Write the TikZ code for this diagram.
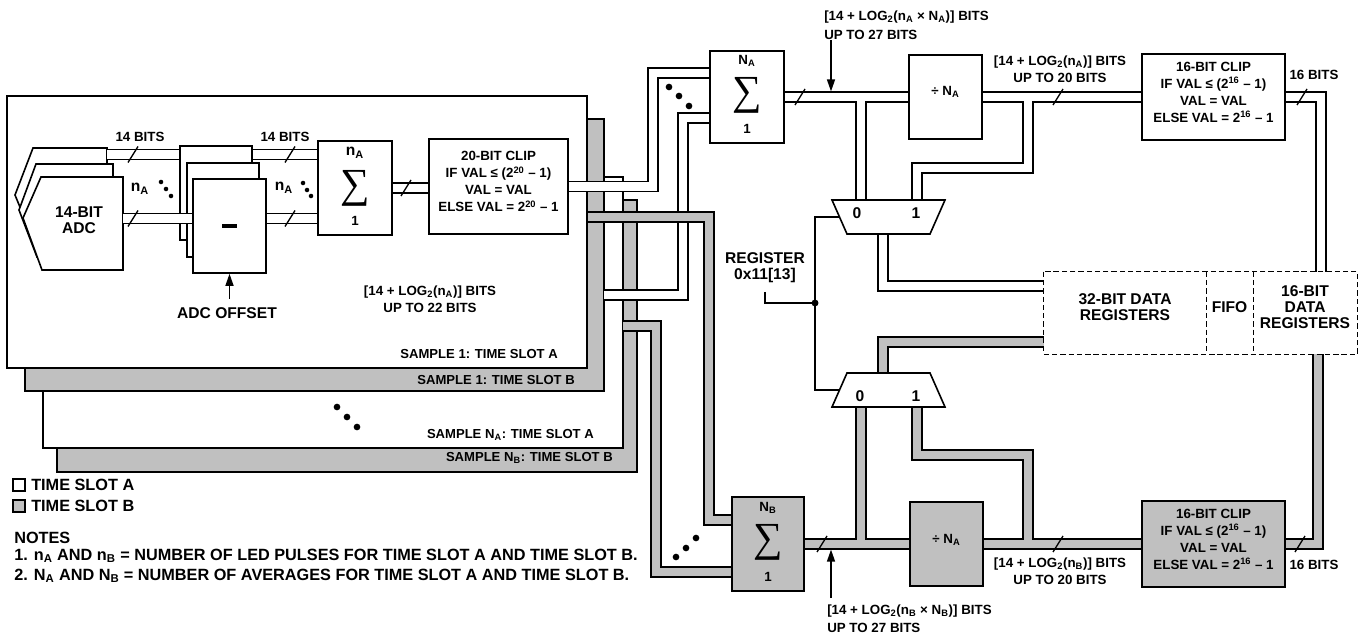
\documentclass[tikz,border=0pt]{standalone}
\usepackage{fontspec}
\setmainfont{Liberation Sans}
\newfontfamily\sumfont{Liberation Serif}
\usepackage{graphicx}
\usetikzlibrary{fit,arrows.meta,calc}
\definecolor{slotb}{RGB}{192,192,192}
\newcommand\sbs[1]{\textsubscript{#1}}
\newcommand\sps[1]{\textsuperscript{#1}}
\newcommand\bigsum{{\sumfont\fontsize{31}{31}\selectfont ∑}}
\tikzset{
  sml/.style={font=\fontsize{10}{12.75}\selectfont\bfseries, inner sep=0pt, align=center},
  med/.style={font=\fontsize{11.7}{12}\selectfont\bfseries, inner sep=0pt, align=center},
  big/.style={font=\fontsize{12.2}{15}\selectfont\bfseries, inner sep=0pt},
  lbl/.style={font=\fontsize{9.8}{12}\selectfont\bfseries, inner sep=0pt},
  sgm/.style={inner sep=0pt},
  box/.style={draw, line width=1.2pt, fill=white, inner sep=0pt},
  boxb/.style={box, fill=slotb},
  panA/.style={draw, line width=1.2pt, fill=white, inner sep=0pt},
  panB/.style={panA, fill=slotb},
  adc/.style={draw, line width=1.2pt, fill=white, line join=miter},
  busout/.style={line width=8.4pt, draw=black, line join=miter},
  businw/.style={line width=6.2pt, draw=white, line join=miter},
  businb/.style={line width=6.2pt, draw=slotb, line join=miter},
  slsh/.style={line width=1pt},
  arr/.style={line width=1.1pt, -{Triangle[length=9pt,width=6pt]}},
  mux/.style={draw, line width=1.2pt, fill=white, line join=miter},
  sel/.style={line width=1.1pt},
  dsh/.style={line width=1.1pt, dash pattern=on 4pt off 2.2pt},
}
\newcommand\wbus[1]{\draw[busout] #1; \draw[businw] #1;}
\newcommand\gbus[1]{\draw[busout] #1; \draw[businb] #1;}
\newcommand\bsl[2]{\draw[slsh] (#1-5,#2+8) -- (#1+5,#2-8);}
\begin{document}
\begin{tikzpicture}[x=0.75pt,y=-0.75pt]
\useasboundingbox (0,0) rectangle (1359,634);

% ---------- sample panels ----------
\node[panB, fit={(57,200) (637,472)}] (pBN) {};
\node[panA, fit={(43,177) (623,448)}] (pAN) {};
\node[panB, fit={(25,119) (604,391)}] (pB1) {};
\node[panA, fit={(7,96) (587,368)}] (pA1) {};
\node[lbl, anchor=east] (tA1) at (558,354) {SAMPLE 1: TIME SLOT A};
\node[lbl, anchor=east] (tB1) at (575,380) {SAMPLE 1: TIME SLOT B};
\node[lbl, anchor=east] (tAN) at (594,435) {SAMPLE N\sbs{A}: TIME SLOT A};
\node[lbl, anchor=east] (tBN) at (613,458) {SAMPLE N\sbs{B}: TIME SLOT B};
\foreach \p in {(337,407),(347,417),(357,427)} \fill \p circle[radius=2.5pt];

% ---------- ADCs and subtractors ----------
\draw[adc] (33,148) -- (107,148) -- (107,241) -- (34,241) -- (15,195) -- cycle;
\draw[adc] (36,164) -- (113,164) -- (113,257) -- (37,257) -- (19,210) -- cycle;
\draw[adc] (41,177) -- (123,177) -- (123,270) -- (42,270) -- (23,218) -- cycle;
\node[med] (adc) at (79,220) {14-BIT\\ADC};
\node[box, fit={(180,146) (252,240)}] (subR) {};
\node[box, fit={(187,163) (259,257)}] (subM) {};
\node[box, fit={(193,179) (266,273)}] (subF) {};
\node[box, fit={(318,141) (392,235)}] (sigL) {};
\node[box, sml, fit={(429,139) (568,234)}] (clip20) {20-BIT CLIP\\IF VAL ≤ (2\sps{20} – 1)\\VAL = VAL\\ELSE VAL = 2\sps{20} – 1};
\coordinate (adcRout) at (107,154.5);
\coordinate (adcFout) at (123,218.5);
\wbus{(adcRout) -- (adcRout -| subR.west)}
\wbus{(adcFout) -- (adcFout -| subF.west)}
\node[box, fit={(193,179) (266,273)}] (subF) {};
\fill ($(subF.center)+(-7.5,-2)$) rectangle ($(subF.center)+(7.5,2)$);
\wbus{(subR.east |- adcRout) -- (sigL.west |- adcRout)}
\wbus{(subF.east |- adcFout) -- (sigL.west |- adcFout)}
\wbus{(sigL.east) -- (sigL.east -| clip20.west)}
\node[med] (sigLn) at (355,153) {n\sbs{A}};
\node[sgm] (sigLs) at (355,188) {\bigsum};
\node[sml] (sigL1) at (355,221) {1};
\node[sml] (b14a) at (140,137) {14 BITS};
\node[sml] (b14b) at (285,137) {14 BITS};
\node[med] (nA1) at (140,189) {n\sbs{A}};
\node[med] (nA2) at (284,188) {n\sbs{A}};
\foreach \p in {(161,182),(166,189),(171,196),(303,183),(307,190),(311,196)} \fill \p circle[radius=1.7pt];
\node[sml] (b22) at (430,299) {[14 + LOG\sbs{2}(n\sbs{A})] BITS\\UP TO 22 BITS};
\node[med] (adcoff) at (227,313) {ADC OFFSET};
\coordinate (offT) at (229.5,299);
\draw[arr] (offT) -- (offT |- subF.south);

% ---------- right-hand boxes ----------
\node[box, fit={(710,51) (784,143)}] (sigA) {};
\node[sml] (sigAn) at (747,61) {N\sbs{A}};
\node[sgm] (sigAs) at (747,95) {\bigsum};
\node[sml] (sigA1) at (747,129) {1};
\node[box, sml, fit={(909,55) (982,139)}] (divA) {÷ N\sbs{A}};
\node[box, sml, fit={(1142,54) (1285,140)}] (clipA) {16-BIT CLIP\\IF VAL ≤ (2\sps{16} – 1)\\VAL = VAL\\ELSE VAL = 2\sps{16} – 1};
\node[boxb, fit={(732,497) (804,591)}] (sigB) {};
\node[sml] (sigBn) at (768,508) {N\sbs{B}};
\node[sgm] (sigBs) at (768,542) {\bigsum};
\node[sml] (sigB1) at (768,577) {1};
\node[boxb, sml, fit={(910,502) (983,586)}] (divB) {÷ N\sbs{A}};
\node[boxb, sml, fit={(1142,501) (1285,587)}] (clipB) {16-BIT CLIP\\IF VAL ≤ (2\sps{16} – 1)\\VAL = VAL\\ELSE VAL = 2\sps{16} – 1};

% ---------- buses from the sample panels ----------
\coordinate (bA1) at (653,73);
\coordinate (anOut) at (604,295);
\coordinate (bAN) at (683,118);
\coordinate (b1Out) at (588,217);
\coordinate (bB1) at (709,520);
\coordinate (bnOut) at (623,326);
\coordinate (bBN) at (656,572);
\wbus{(clip20.east) -| (bA1) -- (bA1 -| sigA.west)}
\wbus{(anOut) -| (bAN) -- (bAN -| sigA.west)}
\gbus{(b1Out) -| (bB1) -- (bB1 -| sigB.west)}
\gbus{(bnOut) -| (bBN) -- (bBN -| sigB.west)}
\foreach \p in {(669,87),(679,96),(689,106),(676,557),(686,548),(696,538)} \fill \p circle[radius=2.5pt];

% ---------- mux coordinates ----------
\coordinate (iA0) at (861,200);
\coordinate (iA1) at (917,200);
\coordinate (oA) at (883,234);
\coordinate (j1) at (1028,168);
\coordinate (rgInA) at (1044,286);
\coordinate (rg16T) at (1321,272);
\coordinate (iB0) at (861,407);
\coordinate (iB1) at (917,407);
\coordinate (oB) at (883,373);
\coordinate (j2) at (1028,455);
\coordinate (rgOutB) at (1044,342);
\coordinate (rg16B) at (1318,354);

% white network
\draw[busout] (sigA.east) -- (divA.west) (iA0 |- sigA.east) -- (iA0)
  (divA.east) -- (clipA.west) (j1 |- divA.east) -- (j1) -| (iA1)
  (clipA.east) -| (rg16T) (oA) |- (rgInA);
\draw[businw] (sigA.east) -- (divA.west) (iA0 |- sigA.east) -- (iA0)
  (divA.east) -- (clipA.west) (j1 |- divA.east) -- (j1) -| (iA1)
  (clipA.east) -| (rg16T) (oA) |- (rgInA);
% grey network
\draw[busout] (sigB.east) -- (divB.west) (iB0 |- sigB.east) -- (iB0)
  (divB.east) -- (clipB.west) (j2 |- divB.east) -- (j2) -| (iB1)
  (clipB.east) -| (rg16B) (rgOutB) -| (oB);
\draw[businb] (sigB.east) -- (divB.west) (iB0 |- sigB.east) -- (iB0)
  (divB.east) -- (clipB.west) (j2 |- divB.east) -- (j2) -| (iB1)
  (clipB.east) -| (rg16B) (rgOutB) -| (oB);

% ---------- muxes ----------
\draw[mux] (832,200) coordinate (mAa) -- (945,200) -- (930,234) -- (847,234) -- cycle;
\node[med] (mA0) at (857,213) {0};
\node[med] (mA1) at (916,213) {1};
\draw[mux] (847,373) coordinate (mBa) -- (930,373) -- (945,407) -- (832,407) -- cycle;
\node[med] (mB0) at (860,396) {0};
\node[med] (mB1) at (916,396) {1};
\coordinate (selA) at (839.5,217);
\coordinate (selB) at (839.5,390);
\coordinate (selx) at (815,303);
\draw[sel] (selA) -| (selx) |- (selB);
\fill (selx) circle[radius=2.6pt];
\node[med] (reg) at (765,268) {REGISTER\\0x11[13]};
\coordinate (regL) at (765,292);
\draw[sel] (regL) |- (selx);

% ---------- registers ----------
\node[med, fit={(1044,272) (1206,354)}] (rg32) {32-BIT DATA\\REGISTERS};
\node[med, fit={(1206,272) (1253,354)}] (fifo) {FIFO};
\node[med, fit={(1253,272) (1357,354)}] (rg16) {16-BIT\\DATA\\REGISTERS};
\draw[dsh] (rg32.north west) rectangle (rg16.south east);
\draw[dsh] (rg32.north east) -- (rg32.south east);
\draw[dsh] (fifo.north east) -- (fifo.south east);

% ---------- arrows and labels ----------
\coordinate (arT) at (831,40);
\draw[arr] (arT) -- ($(arT |- sigA.east)+(0,-5.6)$);
\node[sml, anchor=west] (tTop1) at (824,17) {[14 + LOG\sbs{2}(n\sbs{A} × N\sbs{A})] BITS};
\node[sml, anchor=west] (tTop2) at (824,35) {UP TO 27 BITS};
\coordinate (arB) at (831,598);
\draw[arr] (arB) -- ($(arB |- sigB.east)+(0,5.6)$);
\node[sml, anchor=west] (tBot1) at (827,611) {[14 + LOG\sbs{2}(n\sbs{B} × N\sbs{B})] BITS};
\node[sml, anchor=west] (tBot2) at (827,628) {UP TO 27 BITS};
\node[sml] (t20a) at (1060,69) {[14 + LOG\sbs{2}(n\sbs{A})] BITS\\UP TO 20 BITS};
\node[sml] (t16a) at (1314,75) {16 BITS};
\node[sml] (t20b) at (1060,571) {[14 + LOG\sbs{2}(n\sbs{B})] BITS\\UP TO 20 BITS};
\node[sml] (t16b) at (1314,565) {16 BITS};

% slashes
\bsl{133}{154.5}\bsl{133}{218.5}\bsl{290}{154.5}\bsl{290}{218.5}\bsl{406}{188}
\bsl{800}{97}\bsl{1058}{97}\bsl{1302}{97}
\bsl{822}{544}\bsl{1058}{544}\bsl{1300}{544}

% ---------- legend and notes ----------
\node[panA, line width=0.9pt, fit={(13,479) (25,491)}] (legA) {};
\node[big, anchor=west] (legAt) at (31,485) {TIME SLOT A};
\node[panB, line width=0.9pt, fit={(13,500) (25,512)}] (legB) {};
\node[big, anchor=west] (legBt) at (31,506) {TIME SLOT B};
\node[big, anchor=west] (notes) at (14,538) {NOTES};
\node[big, anchor=west] (note1) at (14,556) {1. n\sbs{A} AND n\sbs{B} = NUMBER OF LED PULSES FOR TIME SLOT A AND TIME SLOT B.};
\node[big, anchor=west] (note2) at (14,576) {2. N\sbs{A} AND N\sbs{B} = NUMBER OF AVERAGES FOR TIME SLOT A AND TIME SLOT B.};
\end{tikzpicture}
\end{document}
